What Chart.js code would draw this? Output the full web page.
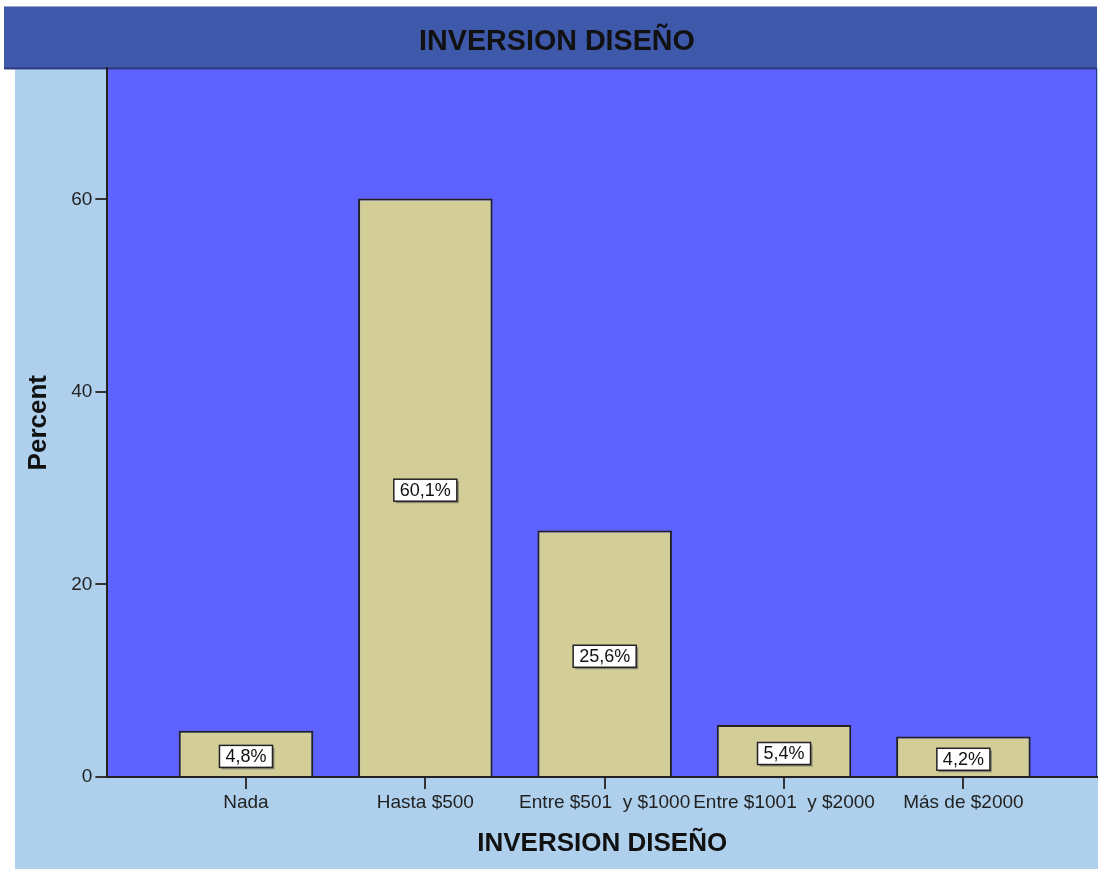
<!DOCTYPE html>
<html>
<head>
<meta charset="utf-8">
<script src="https://cdn.jsdelivr.net/npm/chart.js@4.4.1/dist/chart.umd.min.js"></script>
<style>
  html, body { margin: 0; padding: 0; background: #ffffff; }
  #wrap { width: 1098px; height: 869px; }
</style>
</head>
<body>
<div id="wrap"><canvas id="myChart" width="1098" height="869"></canvas></div>
<script>
var categories = ['Nada', 'Hasta $500', 'Entre $501  y $1000', 'Entre $1001  y $2000', 'Más de $2000'];
var percents = [4.8, 60.1, 25.6, 5.4, 4.2];
var yTicks = [0, 20, 40, 60];
var chartTitle = 'INVERSION DISEÑO';
var xTitle = 'INVERSION DISEÑO';
var yTitle = 'Percent';

var FONT = "'Liberation Sans', Arial, sans-serif";

// fondos: barra de titulo, marco celeste y area del grafico
var backgrounds = {
    id: 'backgrounds',
    beforeDraw: function(chart) {
        var c = chart.ctx, a = chart.chartArea;
        c.save();
        c.fillStyle = '#ffffff';
        c.fillRect(0, 0, chart.width, chart.height);
        c.fillStyle = '#AED0EC';
        c.fillRect(15, 68, chart.width - 15, chart.height - 68);
        c.fillStyle = '#9aa6d0';
        c.fillRect(4, 6, a.right - 4, 1);
        c.fillStyle = '#3E58AA';
        c.fillRect(4, 7, a.right - 4, a.top - 7);
        c.fillStyle = '#5E62FF';
        c.fillRect(a.left, a.top, a.right - a.left, a.bottom - a.top);
        c.fillStyle = '#2b3a80';
        c.fillRect(4, a.top - 1, a.right - 4, 2);
        c.fillRect(a.right - 1, a.top, 1, a.bottom - a.top);
        c.restore();
    }
};

// etiquetas con recuadro blanco en el centro de cada barra
var barLabels = {
    id: 'barLabels',
    afterDatasetsDraw: function(chart) {
        var c = chart.ctx;
        var meta = chart.getDatasetMeta(0);
        c.save();
        c.font = '18px ' + FONT;
        c.textAlign = 'center';
        c.textBaseline = 'middle';
        meta.data.forEach(function(bar, i) {
            var txt = percents[i].toFixed(1).replace('.', ',') + '%';
            var w = c.measureText(txt).width + 12;
            var h = 22;
            var cx = bar.x;
            var cy = (bar.y + bar.base) / 2 + 3;
            c.fillStyle = 'rgba(90,90,90,0.6)';
            c.fillRect(cx - w / 2 + 2, cy - h / 2 + 2, w, h);
            c.fillStyle = '#ffffff';
            c.fillRect(cx - w / 2, cy - h / 2, w, h);
            c.strokeStyle = '#222222';
            c.lineWidth = 1.5;
            c.strokeRect(cx - w / 2, cy - h / 2, w, h);
            c.fillStyle = '#111111';
            c.fillText(txt, cx, cy + 1);
        });
        c.restore();
    }
};

var ctx = document.getElementById('myChart');
var myChart = new Chart(ctx, {
    type: 'bar',
    data: {
        datasets: [
            {
            label: yTitle,
            data: percents.map(function(v, i) { return { x: i, y: v }; }),
            backgroundColor: '#D3CE98',
            borderColor: '#222222',
            borderWidth: 2,
            borderSkipped: 'bottom',
            categoryPercentage: 1,
            barPercentage: 0.75
        }
    ]
    },
    options: {
    responsive: false,
    animation: false,
    layout: { padding: { left: 17, right: 1, top: 0, bottom: 0 } },
    plugins: {
        legend: { display: false },
        tooltip: { enabled: false },
        title: {
            display: true,
            text: chartTitle,
            color: '#111111',
            font: { family: FONT, size: 28.7, weight: 'bold' },
            padding: { top: 25, bottom: 9 }
        }
    },
    scales: {
        x: {
            type: 'linear',
            offset: false,
            min: -0.773,
            max: 4.745,
            grid: { offset: false, drawOnChartArea: false, drawTicks: true, tickLength: 12, color: '#333333', lineWidth: 2 },
            border: { display: true, color: '#222222', width: 2 },
            ticks: {
                stepSize: 1,
                includeBounds: false,
                autoSkip: false,
                maxRotation: 0,
                padding: 2,
                color: '#222222',
                font: { family: FONT, size: 19 },
                callback: function(v) { return Number.isInteger(v) && categories[v] !== undefined ? categories[v] : ''; }
            },
            title: {
                display: true,
                text: xTitle,
                color: '#111111',
                font: { family: FONT, size: 26, weight: 'bold' },
                padding: { top: 12, bottom: 10 }
            }
        },
        y: {
            min: 0,
            max: 73.6,
            grid: { drawOnChartArea: false, drawTicks: true, tickLength: 12, color: '#333333', lineWidth: 2 },
            border: { display: true, color: '#222222', width: 2 },
            ticks: {
                stepSize: 20,
                includeBounds: false,
                padding: 3,
                color: '#222222',
                font: { family: FONT, size: 19 },
                callback: function(v) { return yTicks.indexOf(v) >= 0 ? v : ''; }
            },
            title: {
                display: true,
                text: yTitle,
                color: '#111111',
                font: { family: FONT, size: 26, weight: 'bold' },
                padding: { top: 6, bottom: 14 }
            }
        }
    }
    },
    plugins: [backgrounds, barLabels]
});
</script>
</body>
</html>
